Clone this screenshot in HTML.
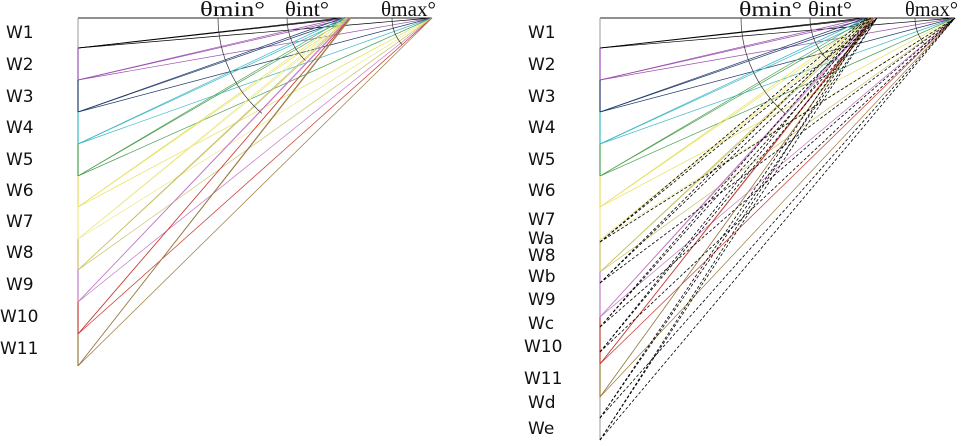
<!DOCTYPE html>
<html><head><meta charset="utf-8"><style>
html,body{margin:0;padding:0;background:#fff;width:962px;height:446px;overflow:hidden}
svg{display:block}
.w{font-family:"DejaVu Sans","Liberation Sans",sans-serif;font-size:17px;fill:#111}
.t{font-family:"Liberation Serif",serif;font-size:21px;fill:#111}
</style></head><body>
<svg id="s" width="962" height="446" xmlns="http://www.w3.org/2000/svg">
<g id="g"></g>
<text class="w" x="6" y="38">W1</text><text class="w" x="6" y="70">W2</text><text class="w" x="6" y="102">W3</text><text class="w" x="6" y="133">W4</text><text class="w" x="6" y="165">W5</text><text class="w" x="6" y="196">W6</text><text class="w" x="6" y="227">W7</text><text class="w" x="6" y="258">W8</text><text class="w" x="6" y="290">W9</text><text class="w" x="0" y="322">W10</text><text class="w" x="0" y="354">W11</text>
<text class="w" x="528" y="38">W1</text><text class="w" x="528" y="70">W2</text><text class="w" x="528" y="102">W3</text><text class="w" x="528" y="133">W4</text><text class="w" x="528" y="165">W5</text><text class="w" x="528" y="196">W6</text><text class="w" x="528" y="225">W7</text><text class="w" x="528" y="244">Wa</text><text class="w" x="528" y="261">W8</text><text class="w" x="528" y="282">Wb</text><text class="w" x="528" y="305">W9</text><text class="w" x="528" y="329">Wc</text><text class="w" x="524" y="352">W10</text><text class="w" x="524" y="384">W11</text><text class="w" x="528" y="408">Wd</text><text class="w" x="528" y="434">We</text>
<text class="t" x="200" y="16" textLength="65" lengthAdjust="spacingAndGlyphs">θmin°</text><text class="t" x="285" y="16" textLength="44" lengthAdjust="spacingAndGlyphs">θint°</text><text class="t" x="381" y="16" textLength="55" lengthAdjust="spacingAndGlyphs">θmax°</text>
<text class="t" x="739" y="16" textLength="63" lengthAdjust="spacingAndGlyphs">θmin°</text><text class="t" x="808" y="16" textLength="44" lengthAdjust="spacingAndGlyphs">θint°</text><text class="t" x="905" y="16" textLength="53" lengthAdjust="spacingAndGlyphs">θmax°</text>
</svg>
<script>
var g=document.getElementById('g'),h='';
var cols=['#000','#9a4fb0','#1f3a6a','#3cb7c4','#4aa050','#e6e05a','#ece88c','#c9c060','#c47ac4','#c83a30','#9a7a40'];
function L(x1,y1,x2,y2,c,w,d){h+='<line x1="'+x1+'" y1="'+y1+'" x2="'+x2+'" y2="'+y2+'" stroke="'+c+'" stroke-width="'+(w||0.7)+'"'+(d?' stroke-dasharray="3,2"':'')+'/>';}
function panel(ax,a1,a2,amax,ys,dys){
  L(ax,18,amax,18,'#222',1);
  var last=ys[ys.length-1];if(dys&&dys.length)last=Math.max(last,dys[dys.length-1]);
  L(ax,18,ax,last,'#999',1);
  ys.forEach(function(y,i){var c=cols[i];
    L(ax,y,a1-4+i,18,c);L(ax,y,a2,18,c);L(ax,y,amax,18,c);
    if(i>0)L(ax,ys[i-1],ax,y,c,1.2);
  });
  (dys||[]).forEach(function(y,i){L(ax,y,a1-2+i,18,'#000',0.8,1);L(ax,y,a2+3,18,'#000',0.8,1);L(ax,y,amax,18,'#000',0.8,1);});
  h+='<path d="M'+(a1-127)+',18 A127,127 0 0 0 '+(a1-83)+',113.5" fill="none" stroke="#333" stroke-width="0.7"/>';
  h+='<path d="M'+(a1-58)+',18 A58,58 0 0 0 '+(a1-39.6)+',60.5" fill="none" stroke="#333" stroke-width="0.7"/>';
  h+='<path d="M'+(amax-40)+',18 A40,40 0 0 0 '+(amax-30)+',44.5" fill="none" stroke="#333" stroke-width="0.7"/>';
}
panel(78,345,350,432,[48,80,112,144,176,207,239,270,302,334,366]);
panel(600,868,874,955,[48,80,112,144,176,207,240,272,317,364,397],[242,283,327,352,418,440]);
g.innerHTML=h;
</script>
</body></html>
